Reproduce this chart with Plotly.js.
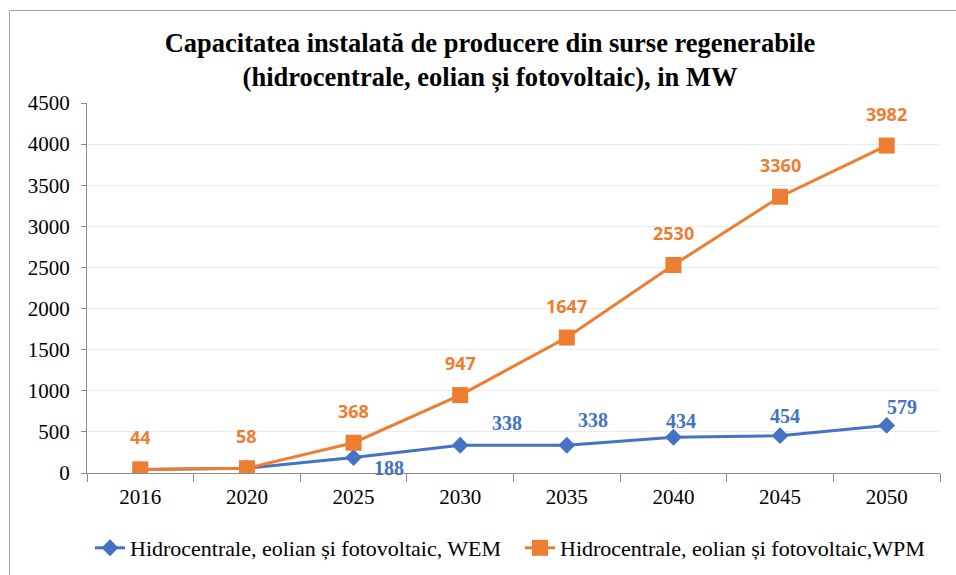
<!DOCTYPE html>
<html>
<head>
<meta charset="utf-8">
<script src="https://cdn.plot.ly/plotly-3.0.1.min.js"></script>
<style>
  html, body { margin: 0; padding: 0; background: #fff; }
  #wrap { position: relative; width: 956px; height: 575px; overflow: hidden; }
  #chart { position: absolute; left: 0; top: 0; width: 956px; height: 575px; }
  #frame { position: absolute; left: 9px; top: 10px; width: 1000px; height: 600px;
           border: 1px solid #a6a6a6; pointer-events: none; box-sizing: border-box; }
</style>
</head>
<body>
<div id="wrap">
  <div id="chart"></div>
  <div id="frame"></div>
</div>
<script>
const years = ["2016", "2020", "2025", "2030", "2035", "2040", "2045", "2050"];
const wemValues = [44, 58, 188, 338, 338, 434, 454, 579];
const wpmValues = [44, 58, 368, 947, 1647, 2530, 3360, 3982];
const wemName = "Hidrocentrale, eolian și fotovoltaic, WEM";
const wpmName = "Hidrocentrale, eolian și fotovoltaic,WPM";
const titleText = "Capacitatea instalată de producere din surse regenerabile<br>(hidrocentrale, eolian și fotovoltaic), in MW";

// label display settings (which WEM labels are shown and their pixel offsets)
const wemShow = [false, false, true, true, true, true, true, true];
const wemShiftX = [0, 0, 35, 47, 26, 8, 5, 15];
const wemShiftY = [0, 0, -10, 22, 25, 16, 20, 18];

const BLUE = "#4472C4";
const ORANGE = "#ED7D31";
const SERIF = "'Liberation Serif', 'Times New Roman', serif";

// category positions on the axis (index of each category)
const xPos = years.map((_, i) => i);

const traces = [
  {
    x: xPos, y: wemValues, name: wemName, type: "scatter", mode: "lines+markers",
    line: { color: BLUE, width: 3 },
    marker: { symbol: "diamond", size: 13, color: BLUE },
    legend: "legend"
  },
  {
    x: xPos, y: wpmValues, name: wpmName, type: "scatter", mode: "lines+markers",
    line: { color: ORANGE, width: 3 },
    marker: { symbol: "square", size: 16, color: ORANGE },
    legend: "legend2"
  }
];

const annotations = [];
xPos.forEach((xi, i) => {
  annotations.push({
    x: xi, y: wpmValues[i], xref: "x", yref: "y", text: "<b>" + wpmValues[i] + "</b>",
    showarrow: false, yanchor: "middle", xanchor: "center", yshift: 32,
    font: { family: "'Open Sans', sans-serif", size: 18, color: ORANGE }
  });
  if (wemShow[i]) {
    annotations.push({
      x: xi, y: wemValues[i], xref: "x", yref: "y", text: "<b>" + wemValues[i] + "</b>",
      showarrow: false, yanchor: "middle", xanchor: "center",
      xshift: wemShiftX[i], yshift: wemShiftY[i],
      font: { family: SERIF, size: 20, color: BLUE }
    });
  }
});

const legendBase = {
  orientation: "h", xref: "container", xanchor: "left",
  yref: "container", y: 27 / 575, yanchor: "middle",
  font: { family: SERIF, size: 22, color: "#000" },
  bgcolor: "rgba(0,0,0,0)"
};

const layout = {
  width: 956, height: 575,
  paper_bgcolor: "#ffffff", plot_bgcolor: "#ffffff",
  margin: { l: 87, r: 16, t: 103, b: 102, autoexpand: false },
  title: {
    text: "<b>" + titleText + "</b>",
    xref: "container", x: 0.5126, xanchor: "center",
    yref: "container", y: 0.91, yanchor: "top",
    font: { family: SERIF, size: 26.5, color: "#000" }
  },
  xaxis: {
    range: [-0.5, years.length - 0.5],
    tickmode: "array", tickvals: xPos, ticktext: years, ticks: "",
    showline: true, linecolor: "#8c8c8c", linewidth: 1,
    minor: { tick0: -0.5, dtick: 1, ticks: "outside", ticklen: 8, tickcolor: "#8c8c8c", showgrid: false },
    showgrid: false, zeroline: false, tickangle: 0, ticklabelstandoff: 5,
    tickfont: { family: SERIF, size: 21, color: "#000" }
  },
  yaxis: {
    range: [0, 4500], dtick: 500, tick0: 0,
    showline: true, linecolor: "#8c8c8c", linewidth: 1,
    ticks: "outside", ticklen: 5, tickcolor: "#8c8c8c", ticklabelstandoff: 7,
    showgrid: true, gridcolor: "#ececec", gridwidth: 1, zeroline: false,
    tickfont: { family: SERIF, size: 21, color: "#000" }
  },
  showlegend: true,
  legend: Object.assign({}, legendBase, { x: 90 / 956 }),
  legend2: Object.assign({}, legendBase, { x: 520 / 956 }),
  annotations: annotations
};

Plotly.newPlot("chart", traces, layout, { displayModeBar: false, staticPlot: true });
</script>
</body>
</html>
